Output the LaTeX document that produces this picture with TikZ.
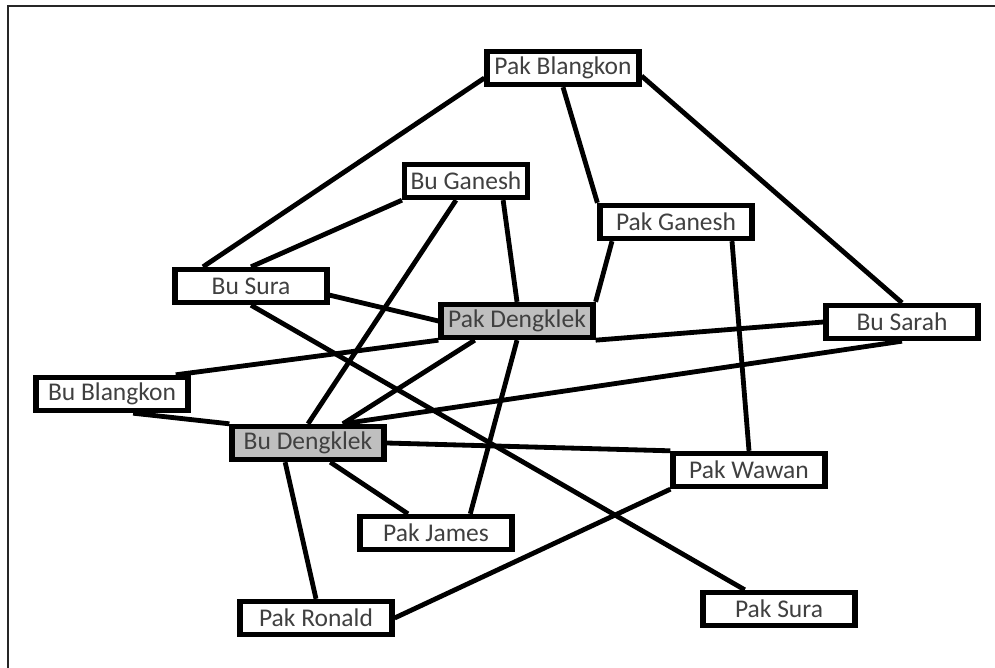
\documentclass[tikz,border=0pt]{standalone}
\usepackage{fontspec}
\setmainfont{Carlito}
\usepackage{tikz}
\definecolor{boxGray}{RGB}{191,191,191}
\definecolor{txtGray}{RGB}{64,64,64}
\tikzset{
  person/.style  = {draw, line width=2.6pt, minimum width=2.66cm,
                    minimum height=0.58cm, inner sep=0pt, text=txtGray,
                    font=\fontsize{12.7}{14}\selectfont},
  hub/.style     = {person, fill=boxGray},
  link/.style    = {line width=2.4pt},
  frame/.style   = {line width=1.1pt, black!85}
}
\begin{document}
\begin{tikzpicture}[x=0.0175cm, y=-0.0175cm]
\useasboundingbox (0,0) rectangle (995,668);
\draw[frame] (8,668) -- (8,6) -- (995,6);
% people
\node[person] (pb)  at (563,68)  {Pak Blangkon};
\node[person,minimum width=2.15cm] (bg) at (466,181) {Bu Ganesh};
\node[person] (pg)  at (676,222) {Pak Ganesh};
\node[person] (bs)  at (251,286) {Bu Sura};
\node[hub]    (pd)  at (517,321) {Pak Dengklek};
\node[person] (bsa) at (902,322) {Bu Sarah};
\node[person] (bb)  at (112,394) {Bu Blangkon};
\node[hub]    (bd)  at (308,443) {Bu Dengklek};
\node[person] (pw)  at (749,470) {Pak Wawan};
\node[person] (pj)  at (436,533) {Pak James};
\node[person] (pr)  at (316,618) {Pak Ronald};
\node[person] (ps)  at (779,609) {Pak Sura};
% links
\draw[link] ([yshift=-1.75mm]pb.west) -- ([xshift=-8.4mm]bs.north);
\draw[link] (pb.south) -- (pg.north west);
\draw[link] ([yshift=-1.4mm]pb.east) -- (bsa.north);
\draw[link] (bg.south west) -- (bs.north);
\draw[link] ([xshift=-1.75mm]bg.south) -- (bd.north);
\draw[link] ([xshift=6.5mm]bg.south) -- (pd.north);
\draw[link] ([xshift=-11.2mm]pg.south) -- (pd.north east);
\draw[link] ([xshift=9.8mm]pg.south) -- (pw.north);
\draw[link] ([yshift=-1.6mm]bs.east) -- (pd.west);
\draw[link] (bs.south) -- ([xshift=-6mm]ps.north);
\draw[link] ([xshift=-7.4mm]pd.south) -- ([xshift=6.1mm]bd.north);
\draw[link] (pd.south) -- ([xshift=6mm]pj.north);
\draw[link] ([xshift=-2.6mm]bb.north east) -- (pd.south west);
\draw[link] (pd.south east) -- (bsa.west);
\draw[link] (bsa.south) -- ([xshift=6.1mm]bd.north);
\draw[link] ([xshift=3.7mm]bb.south) -- (bd.north west);
\draw[link] (bd.east) -- (pw.north west);
\draw[link] ([xshift=3.9mm]bd.south) -- ([xshift=-4.9mm]pj.north);
\draw[link] ([xshift=-4mm]bd.south) -- (pr.north);
\draw[link] (pw.south west) -- (pr.east);
\end{tikzpicture}
\end{document}
